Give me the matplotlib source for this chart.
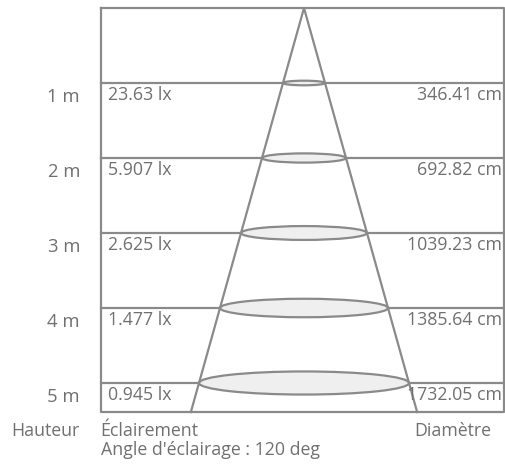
import matplotlib.pyplot as plt
from matplotlib.patches import Ellipse

# chart values
heights = [1, 2, 3, 4, 5]                       # m
illuminance = [23.63, 5.907, 2.625, 1.477, 0.945]  # lx
diameters = [346.41, 692.82, 1039.23, 1385.64, 1732.05]  # cm
beam_angle = 120  # deg

# drawing style (schematic units: 1 unit = 1 m of height)
line_c = '#8a8a8a'
text_c = '#707070'
fill_c = '#efefef'
cone_slope = 0.28      # schematic half-width per metre
ell_ratio = 0.11       # ellipse height / width
box_left, box_right = -2.713, 2.673
box_bottom = 5.387

plt.rcParams['font.family'] = ['Open Sans', 'DejaVu Sans']

fig = plt.figure(figsize=(5.06, 4.67), dpi=100)
ax = fig.add_axes([0, 0, 1, 1])
ax.set_xlim(-304 / 75, (506 - 304) / 75)
ax.set_ylim((467 - 8) / 75, -8 / 75)
ax.axis('off')

lw = 1.6
# box
ax.plot([box_left, box_right, box_right, box_left, box_left],
        [0, 0, box_bottom, box_bottom, 0], color=line_c, lw=lw, zorder=1)
for h in heights:
    ax.plot([box_left, box_right], [h, h], color=line_c, lw=lw, zorder=1)

# ellipses at each height
for h in heights:
    w = 2 * cone_slope * h
    ax.add_patch(Ellipse((0, h), w, w * ell_ratio, facecolor=fill_c,
                         edgecolor=line_c, lw=lw, zorder=2))

# cone
hw = cone_slope * box_bottom
ax.plot([-hw, 0, hw], [box_bottom, 0, box_bottom], color=line_c, lw=lw, zorder=3)

# labels
fs = 13.3
fs_in = 12.8
fs_bot = 12.8
for h, lx, d in zip(heights, illuminance, diameters):
    ax.text(-2.987, h + 0.253, f'{h} m', ha='right', va='baseline',
            fontsize=fs, color=text_c)
    ax.text(-2.613, h + 0.227, f'{lx:.4g} lx', ha='left', va='baseline',
            fontsize=fs_in, color=text_c)
    ax.text(2.64, h + 0.227, f'{d:.2f} cm', ha='right', va='baseline',
            fontsize=fs_in, color=text_c)

ax.text(-2.987, 5.71, 'Hauteur', ha='right', va='baseline', fontsize=fs_bot, color=text_c)
ax.text(box_left, 5.71, 'Éclairement', ha='left', va='baseline', fontsize=fs_bot, color=text_c)
ax.text(box_left, 5.96, f"Angle d'éclairage : {beam_angle} deg", ha='left',
        va='baseline', fontsize=fs_bot, color=text_c)
ax.text(2.493, 5.71, 'Diamètre', ha='right', va='baseline', fontsize=fs_bot, color=text_c)

fig.savefig('out.png', dpi=100)
